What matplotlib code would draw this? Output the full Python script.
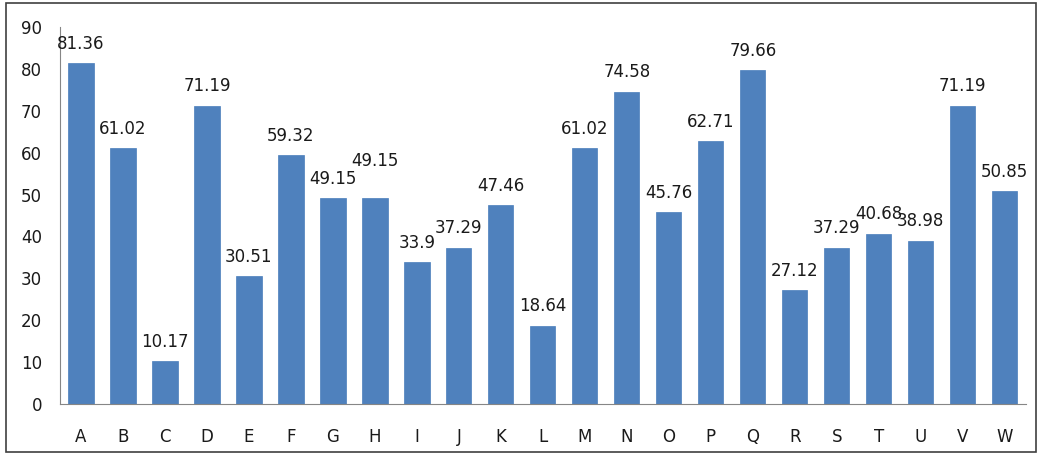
import numpy as np
import matplotlib.pyplot as plt
from matplotlib.patches import Rectangle

categories = list("ABCDEFGHIJKLMNOPQRSTUVW")
values = [81.36, 61.02, 10.17, 71.19, 30.51, 59.32, 49.15, 49.15, 33.9, 37.29,
          47.46, 18.64, 61.02, 74.58, 45.76, 62.71, 79.66, 27.12, 37.29, 40.68,
          38.98, 71.19, 50.85]
labels = ["81.36", "61.02", "10.17", "71.19", "30.51", "59.32", "49.15", "49.15",
          "33.9", "37.29", "47.46", "18.64", "61.02", "74.58", "45.76", "62.71",
          "79.66", "27.12", "37.29", "40.68", "38.98", "71.19", "50.85"]

# extra lift (points) for the label that was nudged to avoid overlapping
lift = {7: 13}

fig = plt.figure(figsize=(10.43, 4.57), dpi=100)
ax = fig.add_axes([0.0575, 0.116, 0.926, 0.825])

# grey frame round the whole picture
fig.patches.append(Rectangle((0.006, 0.01), 0.987, 0.983, transform=fig.transFigure,
                             fill=False, edgecolor='#404040', linewidth=1.2))

x = np.arange(len(categories))
ax.bar(x, values, width=0.6, color='#4F81BD', edgecolor='#4A7EBB', linewidth=0.5)

for i, (xi, v, lab) in enumerate(zip(x, values, labels)):
    ax.annotate(lab, (xi, v), xytext=(0, 14 + lift.get(i, 0)),
                textcoords='offset points', ha='center', va='center',
                fontsize=12, color='#1a1a1a')

ax.set_xlim(-0.5, len(categories) - 0.5)
ax.set_ylim(0, 90)
ax.set_yticks(range(0, 91, 10))
ax.set_xticks(x)
ax.set_xticklabels(categories)
ax.tick_params(axis='both', length=0, labelsize=12, colors='#1a1a1a')
ax.tick_params(axis='x', pad=17)
ax.tick_params(axis='y', pad=13)

for s in ['top', 'right']:
    ax.spines[s].set_visible(False)
ax.spines['left'].set_color('#868686')
ax.spines['bottom'].set_color('#868686')

fig.savefig('out.png', dpi=100)
